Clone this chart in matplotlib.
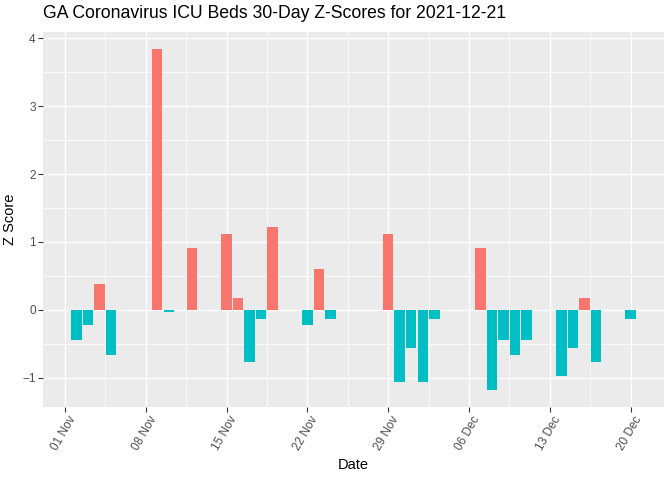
import matplotlib
matplotlib.use("Agg")
import matplotlib.pyplot as plt
import matplotlib.dates as mdates
import matplotlib.transforms as mtransforms
import numpy as np
import pandas as pd

plt.rcParams['font.family'] = ['Liberation Sans', 'DejaVu Sans']

dates = ["2021-11-02", "2021-11-03", "2021-11-04", "2021-11-05", "2021-11-09",
         "2021-11-10", "2021-11-12", "2021-11-15", "2021-11-16", "2021-11-17",
         "2021-11-18", "2021-11-19", "2021-11-22", "2021-11-23", "2021-11-24",
         "2021-11-29", "2021-11-30", "2021-12-01", "2021-12-02", "2021-12-03",
         "2021-12-07", "2021-12-08", "2021-12-09", "2021-12-10", "2021-12-11",
         "2021-12-14", "2021-12-15", "2021-12-16", "2021-12-17", "2021-12-20"]
z_scores = [-0.44, -0.23, 0.38, -0.66, 3.84,
            -0.03, 0.91, 1.12, 0.18, -0.77,
            -0.13, 1.22, -0.23, 0.60, -0.13,
            1.12, -1.07, -0.56, -1.07, -0.13,
            0.91, -1.18, -0.44, -0.66, -0.44,
            -0.97, -0.56, 0.18, -0.77, -0.13]
tick_dates = ["2021-11-01", "2021-11-08", "2021-11-15", "2021-11-22",
              "2021-11-29", "2021-12-06", "2021-12-13", "2021-12-20"]

x = mdates.date2num(pd.to_datetime(dates))
z = np.array(z_scores)
colors = np.where(z > 0, '#F8766D', '#00BFC4')

fig = plt.figure(figsize=(7, 5), dpi=96)
ax = fig.add_axes([43 / 672, 1 - 407 / 480, (664 - 43) / 672, (407 - 32) / 480])
ax.set_facecolor('#EBEBEB')
for s in ax.spines.values():
    s.set_visible(False)

ax.bar(x, z, width=0.9, color=colors, zorder=3)

ticks = mdates.date2num(pd.to_datetime(tick_dates))
ax.set_xticks(ticks)
ax.set_xticklabels(pd.to_datetime(tick_dates).strftime('%d %b'), rotation=60,
                   ha='right', rotation_mode='anchor')
ax.set_xticks(np.concatenate([ticks - 3.5, [ticks[-1] + 3.5]]), minor=True)
ax.set_yticks([-1, 0, 1, 2, 3, 4])
ax.set_yticks([-1.5, -0.5, 0.5, 1.5, 2.5, 3.5], minor=True)

# expanded limits like ggplot (5%)
xlo, xhi = x.min() - 0.45, x.max() + 0.45
pad = (xhi - xlo) * 0.05
ax.set_xlim(xlo - pad, xhi + pad)
ylo, yhi = z.min(), z.max()
pad = (yhi - ylo) * 0.05
ax.set_ylim(ylo - pad, yhi + pad)

ax.grid(which='major', color='white', linewidth=1.1, zorder=1)
ax.grid(which='minor', color='white', linewidth=0.55, zorder=1)
ax.set_axisbelow(True)
ax.tick_params(which='major', length=3.5, width=0.8, color='#333333',
               labelcolor='#4D4D4D', labelsize=8.8, pad=2)
ax.tick_params(which='minor', length=0)

# nudge rotated labels a little right, like ggplot's hjust
shift = mtransforms.ScaledTranslation(3 / 96, 0, fig.dpi_scale_trans)
for lbl in ax.get_xticklabels():
    lbl.set_transform(lbl.get_transform() + shift)

ax.set_xlabel('Date', fontsize=11, labelpad=4)
ax.set_ylabel('Z Score', fontsize=11, labelpad=4)
fig.text(43 / 672, 1 - 14 / 480, 'GA Coronavirus ICU Beds 30-Day Z-Scores for 2021-12-21',
         fontsize=13.2, ha='left', va='center')

fig.savefig('out.png', dpi=96)
